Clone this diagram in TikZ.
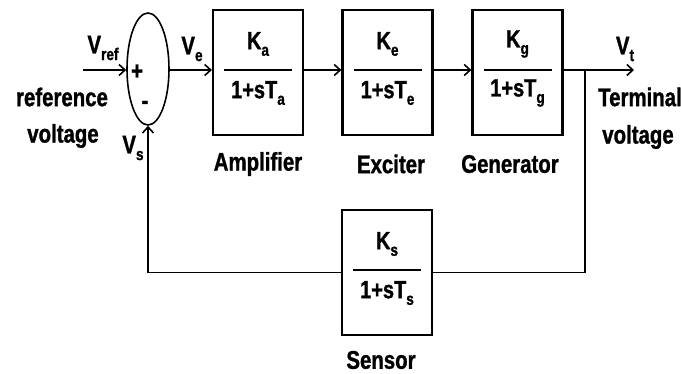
\documentclass[tikz,border=0pt]{standalone}
\usepackage{fontspec}
\setmainfont[FakeStretch=0.8,FakeBold=1.2]{Liberation Sans}
\usetikzlibrary{shapes.geometric,arrows.meta}
\newcommand{\lowsub}[1]{\raisebox{-0.5ex}{\fontsize{17}{17}\selectfont #1}}
\begin{document}
\begin{tikzpicture}[x=1pt,y=-1pt,
  font=\bfseries\fontsize{25.5}{26}\selectfont,
  blk/.style={draw,line width=2.2pt,minimum width=90pt,minimum height=125pt,inner sep=0pt},
  sumnode/.style={draw,ellipse,line width=1.6pt,minimum width=42pt,minimum height=112pt,inner sep=0pt},
  conn/.style={line width=1.8pt},
  arr/.style={conn,-{Straight Barb[length=6pt,width=11pt,line width=1.6pt]}},
  fracline/.style={line width=2.6pt},
  lbl/.style={inner sep=0pt},
  frac/.style={inner sep=0pt,font=\bfseries\fontsize{25}{26}\selectfont}]
\useasboundingbox (0,0) rectangle (681,374);

% summing junction
\node[sumnode] (sum) at (148,69) {};
\node[lbl] (plus) at (137,72) {+};
\node[lbl] (minus) at (145,105) {-};

% blocks
\node[blk] (amp) at (258,72.5) {};
\node[blk] (exc) at (387.5,72.5) {};
\node[blk] (gen) at (517.5,72.5) {};
\node[blk] (sen) at (387,272.5) {};

% fractions
\foreach \b/\n/\d in {amp/K\lowsub{a}/1+sT\lowsub{a}, exc/K\lowsub{e}/1+sT\lowsub{e}, gen/K\lowsub{g}/1+sT\lowsub{g}, sen/K\lowsub{s}/1+sT\lowsub{s}}{
  \coordinate (\b-mid) at ([yshift=2.5pt]\b.center);
  \draw[fracline] ([xshift=-34pt]\b-mid) coordinate (\b-fl) -- ([xshift=34pt]\b-mid) coordinate (\b-fr);
  \node[frac] (\b-num) at ([yshift=26pt]\b-mid) {\n};
  \node[frac] (\b-den) at ([yshift=-23pt]\b-mid) {\d};
}

% block labels
\node[lbl] (lamp) at (258,164) {Amplifier};
\node[lbl] (lexc) at (391,164) {Exciter};
\node[lbl] (lgen) at (510,164) {Generator};
\node[lbl] (lsen) at (381,360) {Sensor};

% signal labels
\node[lbl] (vref) at (103,48) {V\lowsub{ref}};
\node[lbl] (ve) at (192,49) {V\lowsub{e}};
\node[lbl] (vs) at (133,148) {V\lowsub{s}};
\node[lbl] (vt) at (625,49) {V\lowsub{t}};
\node[lbl] (ref1) at (62,97) {reference};
\node[lbl] (ref2) at (63,136) {voltage};
\node[lbl] (term1) at (640,97) {Terminal};
\node[lbl] (term2) at (638,137) {voltage};

% connectors
\coordinate (in) at (83,70);
\coordinate (out) at (634,70);
\coordinate (br) at (585,70);
\draw[arr] (in) -- (sum.west |- in);
\draw[arr] (sum.east |- in) -- (amp.west |- in);
\draw[arr] (amp.east |- in) -- (exc.west |- in);
\draw[arr] (exc.east |- in) -- (gen.west |- in);
\draw[arr] (gen.east |- in) -- (out);
\draw[conn] (br) |- (sen.east);
\draw[arr] (sen.west) -| (sum.south);
\end{tikzpicture}
\end{document}
